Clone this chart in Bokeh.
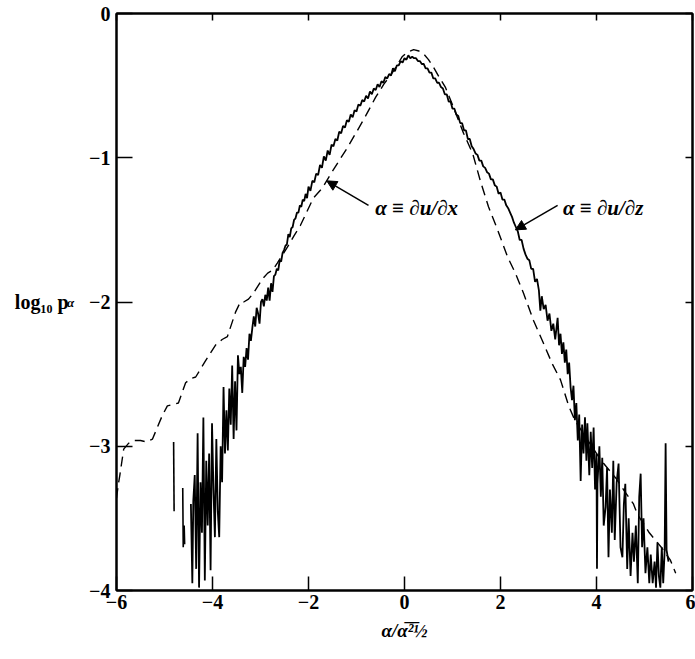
from bokeh.plotting import figure
from bokeh.models import LinearAxis, FixedTicker, Arrow, NormalHead, Range1d, Label
from bokeh.embed import file_html
from bokeh.resources import INLINE

# ---------------- data ----------------
x_ticks = [-6, -4, -2, 0, 2, 4, 6]
x_tick_labels = ["\u22126", "\u22124", "\u22122", "0", "2", "4", "6"]
y_ticks = [0, -1, -2, -3, -4]
y_tick_labels = ["0", "\u22121", "\u22122", "\u22123", "\u22124"]

# alpha = du/dz (solid) : isolated fragments in the far left tail
dudz_frag1_x = [-4.81, -4.80]
dudz_frag1_y = [-2.97, -3.45]
dudz_frag2_x = [-4.62, -4.61, -4.59, -4.58]
dudz_frag2_y = [-3.29, -3.70, -3.55, -3.68]

# alpha = du/dz (solid) : main trace
dudz_x = [-4.45, -4.42, -4.40, -4.37, -4.34, -4.31, -4.28, -4.25, -4.22, -4.19,
          -4.16, -4.13, -4.10, -4.07, -4.04, -4.01, -3.98, -3.95, -3.92, -3.89,
          -3.86, -3.83, -3.80, -3.77, -3.74, -3.71, -3.68, -3.65, -3.62, -3.59,
          -3.56, -3.53, -3.50, -3.47, -3.44, -3.41, -3.38, -3.35, -3.32, -3.29,
          -3.26, -3.23, -3.20, -3.17, -3.14, -3.11, -3.08, -3.05, -3.02, -2.99,
          -2.96, -2.93, -2.90, -2.87, -2.84, -2.81, -2.78, -2.75, -2.72, -2.69,
          -2.66, -2.63, -2.60, -2.57, -2.54, -2.51, -2.48, -2.45, -2.42, -2.39,
          -2.36, -2.33, -2.30, -2.27, -2.24, -2.21, -2.18, -2.15, -2.12, -2.09,
          -2.06, -2.03, -2.00, -1.96, -1.92, -1.88, -1.84, -1.80, -1.76, -1.72,
          -1.68, -1.64, -1.60, -1.56, -1.52, -1.48, -1.44, -1.40, -1.36, -1.32,
          -1.28, -1.24, -1.20, -1.16, -1.12, -1.08, -1.04, -1.00, -0.96, -0.92,
          -0.88, -0.84, -0.80, -0.76, -0.72, -0.68, -0.64, -0.60, -0.56, -0.52,
          -0.48, -0.44, -0.40, -0.36, -0.32, -0.28, -0.24, -0.20, -0.16, -0.12,
          -0.08, -0.04, 0.00, 0.04, 0.08, 0.12, 0.16, 0.20, 0.24, 0.28,
          0.32, 0.36, 0.40, 0.44, 0.48, 0.52, 0.56, 0.60, 0.64, 0.68,
          0.72, 0.76, 0.80, 0.84, 0.88, 0.92, 0.96, 1.00, 1.04, 1.08,
          1.12, 1.16, 1.20, 1.24, 1.28, 1.32, 1.36, 1.40, 1.44, 1.48,
          1.52, 1.56, 1.60, 1.64, 1.68, 1.72, 1.76, 1.80, 1.84, 1.88,
          1.92, 1.96, 2.00, 2.04, 2.08, 2.12, 2.16, 2.20, 2.24, 2.28,
          2.32, 2.36, 2.40, 2.44, 2.48, 2.52, 2.56, 2.60, 2.64, 2.68,
          2.72, 2.76, 2.80, 2.83, 2.86, 2.90, 2.94, 2.98, 3.02, 3.06,
          3.10, 3.14, 3.19, 3.22, 3.25, 3.28, 3.31, 3.34, 3.37, 3.40,
          3.43, 3.46, 3.49, 3.52, 3.55, 3.58, 3.61, 3.64, 3.67, 3.70,
          3.73, 3.76, 3.79, 3.81, 3.85, 3.88, 3.91, 3.94, 3.97, 4.00,
          4.01, 4.02, 4.06, 4.09, 4.12, 4.15, 4.19, 4.22, 4.25, 4.28,
          4.32, 4.35, 4.38, 4.42, 4.46, 4.50, 4.54, 4.57, 4.60, 4.64,
          4.67, 4.71, 4.75, 4.78, 4.82, 4.86, 4.89, 4.92, 4.95, 4.98,
          5.02, 5.06, 5.10, 5.13, 5.17, 5.21, 5.24, 5.27, 5.30, 5.33,
          5.36, 5.39, 5.42, 5.44, 5.46, 5.50]
dudz_y = [-3.40, -3.95, -3.38, -3.20, -3.85, -2.91, -3.98, -3.25, -3.60, -2.80,
          -3.93, -3.10, -3.55, -3.05, -3.86, -2.84, -3.30, -3.63, -2.95, -3.45,
          -3.63, -3.00, -3.25, -2.59, -3.05, -2.75, -3.03, -2.60, -2.85, -2.44,
          -2.95, -2.55, -2.89, -2.37, -2.50, -2.45, -2.63, -2.38, -2.45, -2.32,
          -2.40, -2.22, -2.27, -2.18, -2.10, -2.17, -2.04, -2.08, -2.15, -2.00,
          -1.98, -2.03, -1.95, -1.99, -1.90, -1.99, -1.87, -1.93, -1.82, -1.81,
          -1.77, -1.78, -1.71, -1.72, -1.66, -1.64, -1.61, -1.60, -1.53, -1.55,
          -1.49, -1.48, -1.43, -1.42, -1.38, -1.38, -1.33, -1.34, -1.29, -1.30,
          -1.25, -1.28, -1.20, -1.23, -1.16, -1.17, -1.11, -1.12, -1.05, -1.07,
          -0.99, -1.02, -0.95, -0.98, -0.91, -0.92, -0.87, -0.88, -0.82, -0.83,
          -0.78, -0.79, -0.74, -0.75, -0.70, -0.72, -0.67, -0.68, -0.63, -0.64,
          -0.60, -0.61, -0.57, -0.59, -0.54, -0.56, -0.52, -0.53, -0.49, -0.51,
          -0.47, -0.48, -0.44, -0.45, -0.42, -0.43, -0.38, -0.40, -0.36, -0.36,
          -0.33, -0.34, -0.31, -0.32, -0.29, -0.31, -0.30, -0.31, -0.31, -0.33,
          -0.33, -0.35, -0.35, -0.38, -0.38, -0.41, -0.41, -0.45, -0.45, -0.48,
          -0.48, -0.51, -0.52, -0.56, -0.56, -0.61, -0.61, -0.66, -0.66, -0.70,
          -0.71, -0.76, -0.76, -0.81, -0.81, -0.87, -0.87, -0.92, -0.94, -0.97,
          -0.98, -1.02, -1.02, -1.06, -1.07, -1.10, -1.11, -1.15, -1.15, -1.19,
          -1.20, -1.25, -1.24, -1.29, -1.29, -1.33, -1.35, -1.38, -1.41, -1.45,
          -1.48, -1.51, -1.57, -1.57, -1.63, -1.67, -1.70, -1.71, -1.77, -1.77,
          -1.86, -1.84, -1.92, -2.06, -1.96, -2.05, -2.02, -2.13, -2.08, -2.20,
          -2.15, -2.26, -2.11, -2.30, -2.22, -2.36, -2.28, -2.42, -2.33, -2.50,
          -2.42, -2.59, -2.68, -2.58, -2.82, -2.70, -2.96, -2.78, -3.24, -2.85,
          -3.05, -2.80, -3.10, -2.84, -3.20, -2.90, -3.15, -2.87, -3.30, -3.05,
          -3.85, -3.26, -3.00, -3.35, -3.08, -3.55, -3.42, -3.15, -3.77, -3.30,
          -3.60, -3.10, -3.65, -3.25, -3.12, -3.70, -3.77, -3.40, -3.26, -3.85,
          -3.50, -3.90, -3.60, -3.80, -3.55, -3.95, -3.35, -3.19, -3.70, -3.50,
          -3.88, -3.70, -3.95, -3.75, -3.95, -3.80, -3.98, -3.67, -3.90, -3.98,
          -3.70, -3.95, -3.72, -2.98, -3.72, -3.80]

# alpha = du/dx (dashed)
dudx_x = [-6.00, -5.96, -5.93, -5.85, -5.75, -5.62, -5.50, -5.38, -5.25, -5.15,
          -5.05, -4.94, -4.82, -4.71, -4.56, -4.45, -4.35, -4.15, -3.94, -3.80,
          -3.69, -3.52, -3.42, -3.35, -3.25, -3.15, -2.96, -2.85, -2.75, -2.65,
          -2.44, -2.30, -2.17, -1.90, -1.71, -1.55, -1.40, -1.19, -0.98, -0.81,
          -0.60, -0.43, -0.23, -0.05, 0.05, 0.19, 0.30, 0.40, 0.50, 0.60,
          0.72, 0.85, 1.02, 1.23, 1.42, 1.58, 1.75, 1.94, 2.15, 2.31,
          2.48, 2.69, 2.90, 3.08, 3.25, 3.42, 3.55, 3.80, 4.10, 4.40,
          4.60, 4.77, 4.85, 5.10, 5.35, 5.54, 5.65]
dudx_y = [-3.36, -3.26, -3.20, -3.02, -2.98, -2.96, -2.96, -2.97, -2.95, -2.87,
          -2.79, -2.72, -2.71, -2.70, -2.56, -2.53, -2.52, -2.41, -2.30, -2.26,
          -2.24, -2.07, -2.00, -2.00, -1.98, -1.94, -1.84, -1.80, -1.78, -1.73,
          -1.62, -1.54, -1.47, -1.28, -1.21, -1.12, -1.04, -0.93, -0.81, -0.71,
          -0.58, -0.49, -0.40, -0.30, -0.27, -0.25, -0.26, -0.28, -0.32, -0.37,
          -0.44, -0.51, -0.65, -0.83, -0.97, -1.16, -1.34, -1.50, -1.69, -1.80,
          -1.94, -2.13, -2.29, -2.43, -2.54, -2.72, -2.82, -2.95, -3.10, -3.22,
          -3.32, -3.40, -3.47, -3.60, -3.70, -3.79, -3.88]

# annotation texts and where their arrows point (data units)
label_dx = "\u03b1 \u2261 \u2202u/\u2202x"
label_dz = "\u03b1 \u2261 \u2202u/\u2202z"
arrow_dx = dict(x0=-0.75, y0=-1.33, x1=-1.62, y1=-1.16)
arrow_dz = dict(x0=3.19, y0=-1.33, x1=2.31, y1=-1.50)
text_dx_pos = (-0.61, -1.345)
text_dz_pos = (3.30, -1.345)

SERIF = "Liberation Serif"

p = figure(width=695, height=659, output_backend="svg", toolbar_location=None,
           x_range=Range1d(-6, 6), y_range=Range1d(-4, 0),
           min_border_left=116, min_border_top=13, min_border_right=3,
           min_border_bottom=69)
p.background_fill_color = "white"
p.border_fill_color = "white"
p.outline_line_color = "black"
p.outline_line_width = 2
p.grid.visible = False

xtick_over = {t: s for t, s in zip(x_ticks, x_tick_labels)}
ytick_over = {t: s for t, s in zip(y_ticks, y_tick_labels)}

xa = p.xaxis[0]
xa.ticker = FixedTicker(ticks=x_ticks)
xa.major_label_overrides = xtick_over
xa.minor_tick_line_color = None
xa.major_tick_in = 14
xa.major_tick_out = 0
xa.major_tick_line_width = 1.5
xa.axis_line_width = 2
xa.major_label_standoff = 4
xa.major_label_text_font = SERIF
xa.major_label_text_font_style = "bold"
xa.major_label_text_font_size = "20px"
xa.major_label_text_color = "black"
xa.axis_label = "\u03b1/\u03b1\u0305\u00b2\u0305\u00bd"
xa.axis_label_text_font = SERIF
xa.axis_label_text_font_style = "bold italic"
xa.axis_label_text_font_size = "19px"
xa.axis_label_standoff = 8
xa.axis_label_text_color = "black"

ya = p.yaxis[0]
ya.ticker = FixedTicker(ticks=y_ticks)
ya.major_label_overrides = ytick_over
ya.minor_tick_line_color = None
ya.major_tick_in = 16
ya.major_tick_out = 0
ya.major_tick_line_width = 1.5
ya.axis_line_width = 2
ya.major_label_standoff = 6
ya.major_label_text_font = SERIF
ya.major_label_text_font_style = "bold"
ya.major_label_text_font_size = "20px"
ya.major_label_text_color = "black"
# subscript alpha of p_alpha sits just left of the tick labels
ya.axis_label = "\u03b1"
ya.axis_label_orientation = "horizontal"
ya.axis_label_text_font = SERIF
ya.axis_label_text_font_style = "bold italic"
ya.axis_label_text_font_size = "13px"
ya.axis_label_standoff = 12
ya.axis_label_text_color = "black"

# outer left axis only carries "log10 p"
ya2 = LinearAxis(ticker=FixedTicker(ticks=[]), axis_line_color=None,
                 major_tick_line_color=None, minor_tick_line_color=None,
                 major_label_standoff=0, axis_label_standoff=-5,
                 axis_label="log\u2081\u2080 p", axis_label_orientation="horizontal",
                 axis_label_text_font=SERIF, axis_label_text_font_style="bold",
                 axis_label_text_font_size="20px", axis_label_text_color="black")
p.add_layout(ya2, "left")

# top and right frame ticks (no labels)
top = LinearAxis(ticker=FixedTicker(ticks=x_ticks), major_tick_in=7, major_tick_out=0,
                 minor_tick_line_color=None,
                 major_label_overrides={t: "" for t in x_ticks},
                 major_label_standoff=0, axis_label_standoff=0,
                 axis_line_width=2, major_tick_line_width=1.5)
right = LinearAxis(ticker=FixedTicker(ticks=y_ticks), major_tick_in=7, major_tick_out=0,
                   minor_tick_line_color=None,
                   major_label_overrides={t: "" for t in y_ticks},
                   major_label_standoff=0, axis_label_standoff=0,
                   axis_line_width=2, major_tick_line_width=1.5)
p.add_layout(top, "above")
p.add_layout(right, "right")

# curves
p.line(dudx_x, dudx_y, line_color="black", line_width=1.4, line_dash="10 6")
p.line(dudz_x, dudz_y, line_color="black", line_width=1.8)
p.line(dudz_frag1_x, dudz_frag1_y, line_color="black", line_width=1.6)
p.line(dudz_frag2_x, dudz_frag2_y, line_color="black", line_width=1.6)

# annotations
for a in (arrow_dx, arrow_dz):
    p.add_layout(Arrow(end=NormalHead(size=10, fill_color="black", line_color="black"),
                       x_start=a["x0"], y_start=a["y0"], x_end=a["x1"], y_end=a["y1"],
                       line_color="black", line_width=1.5))
for txt, (tx, ty) in ((label_dx, text_dx_pos), (label_dz, text_dz_pos)):
    p.add_layout(Label(x=tx, y=ty, text=txt, text_font=SERIF, text_font_style="bold italic",
                       text_font_size="21px", text_baseline="middle", text_align="left",
                       text_color="black"))

open("out.html", "w").write(file_html(p, INLINE))
